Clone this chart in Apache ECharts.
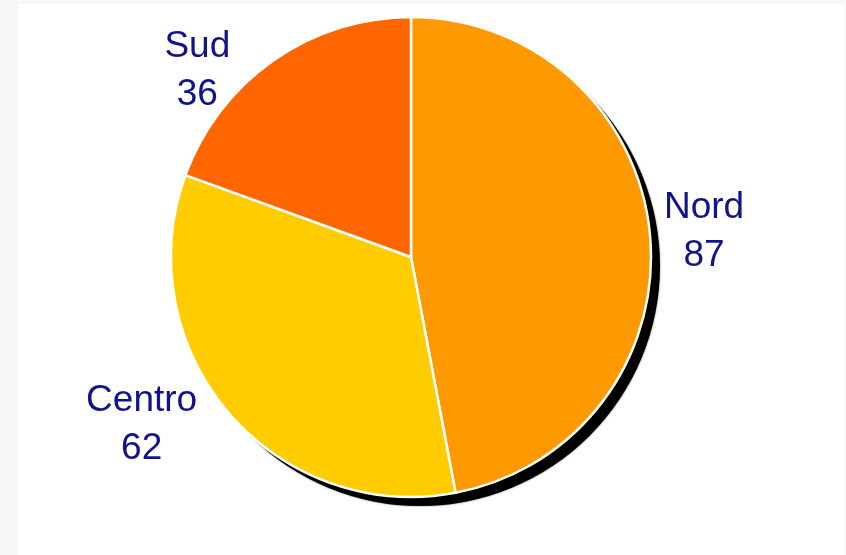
<!DOCTYPE html>
<html>
<head>
<meta charset="utf-8">
<script src="https://cdn.jsdelivr.net/npm/echarts@6/dist/echarts.min.js"></script>
<style>
html,body{margin:0;padding:0;background:#f7f7f7;}
#c{width:846px;height:555px;}
</style>
</head>
<body>
<div id="c"></div>
<script>
var categories = ['Nord', 'Centro', 'Sud'];
var values = [87, 62, 36];
var colors = ['#FF9900', '#FFCC00', '#FF6600'];
// label nudges relative to the library's outside label position
var labelNudge = [[9, -3], [-26, 12], [-38, 10]];

var pieData = categories.map(function (name, i) {
  return { name: name, value: values[i], itemStyle: { color: colors[i] } };
});
var total = values.reduce(function (a, b) { return a + b; }, 0);

var chart = echarts.init(document.getElementById('c'));
chart.setOption({
  backgroundColor: '#f7f7f7',
  animation: false,
  graphic: [{
    type: 'rect', z: -10, silent: true,
    shape: { x: 18, y: 4, width: 826, height: 551 },
    style: { fill: '#ffffff' }
  }],
  series: [
    {
      type: 'pie',
      silent: true,
      center: [420, 266],
      radius: 240,
      startAngle: 90,
      z: 1,
      label: { show: false },
      labelLine: { show: false },
      itemStyle: { color: '#000000', shadowBlur: 2, shadowColor: 'rgba(0,0,0,0.6)' },
      data: [{ name: 'shadow', value: total }]
    },
    {
      type: 'pie',
      center: [411, 257],
      radius: 240,
      startAngle: 90,
      clockwise: true,
      z: 2,
      avoidLabelOverlap: false,
      itemStyle: { borderColor: '#ffffff', borderWidth: 2.5 },
      label: {
        show: true,
        position: 'outside',
        formatter: '{n|{b}}\n{n|{c}}',
        rich: {
          n: {
            align: 'center',
            fontFamily: 'Liberation Sans, Arial, sans-serif',
            fontSize: 37,
            lineHeight: 48,
            color: '#12128a'
          }
        }
      },
      labelLine: { show: false, length: 0, length2: 0 },
      labelLayout: function (params) {
        var d = labelNudge[params.dataIndex];
        return { dx: d[0], dy: d[1] };
      },
      data: pieData
    }
  ]
});
</script>
</body>
</html>
